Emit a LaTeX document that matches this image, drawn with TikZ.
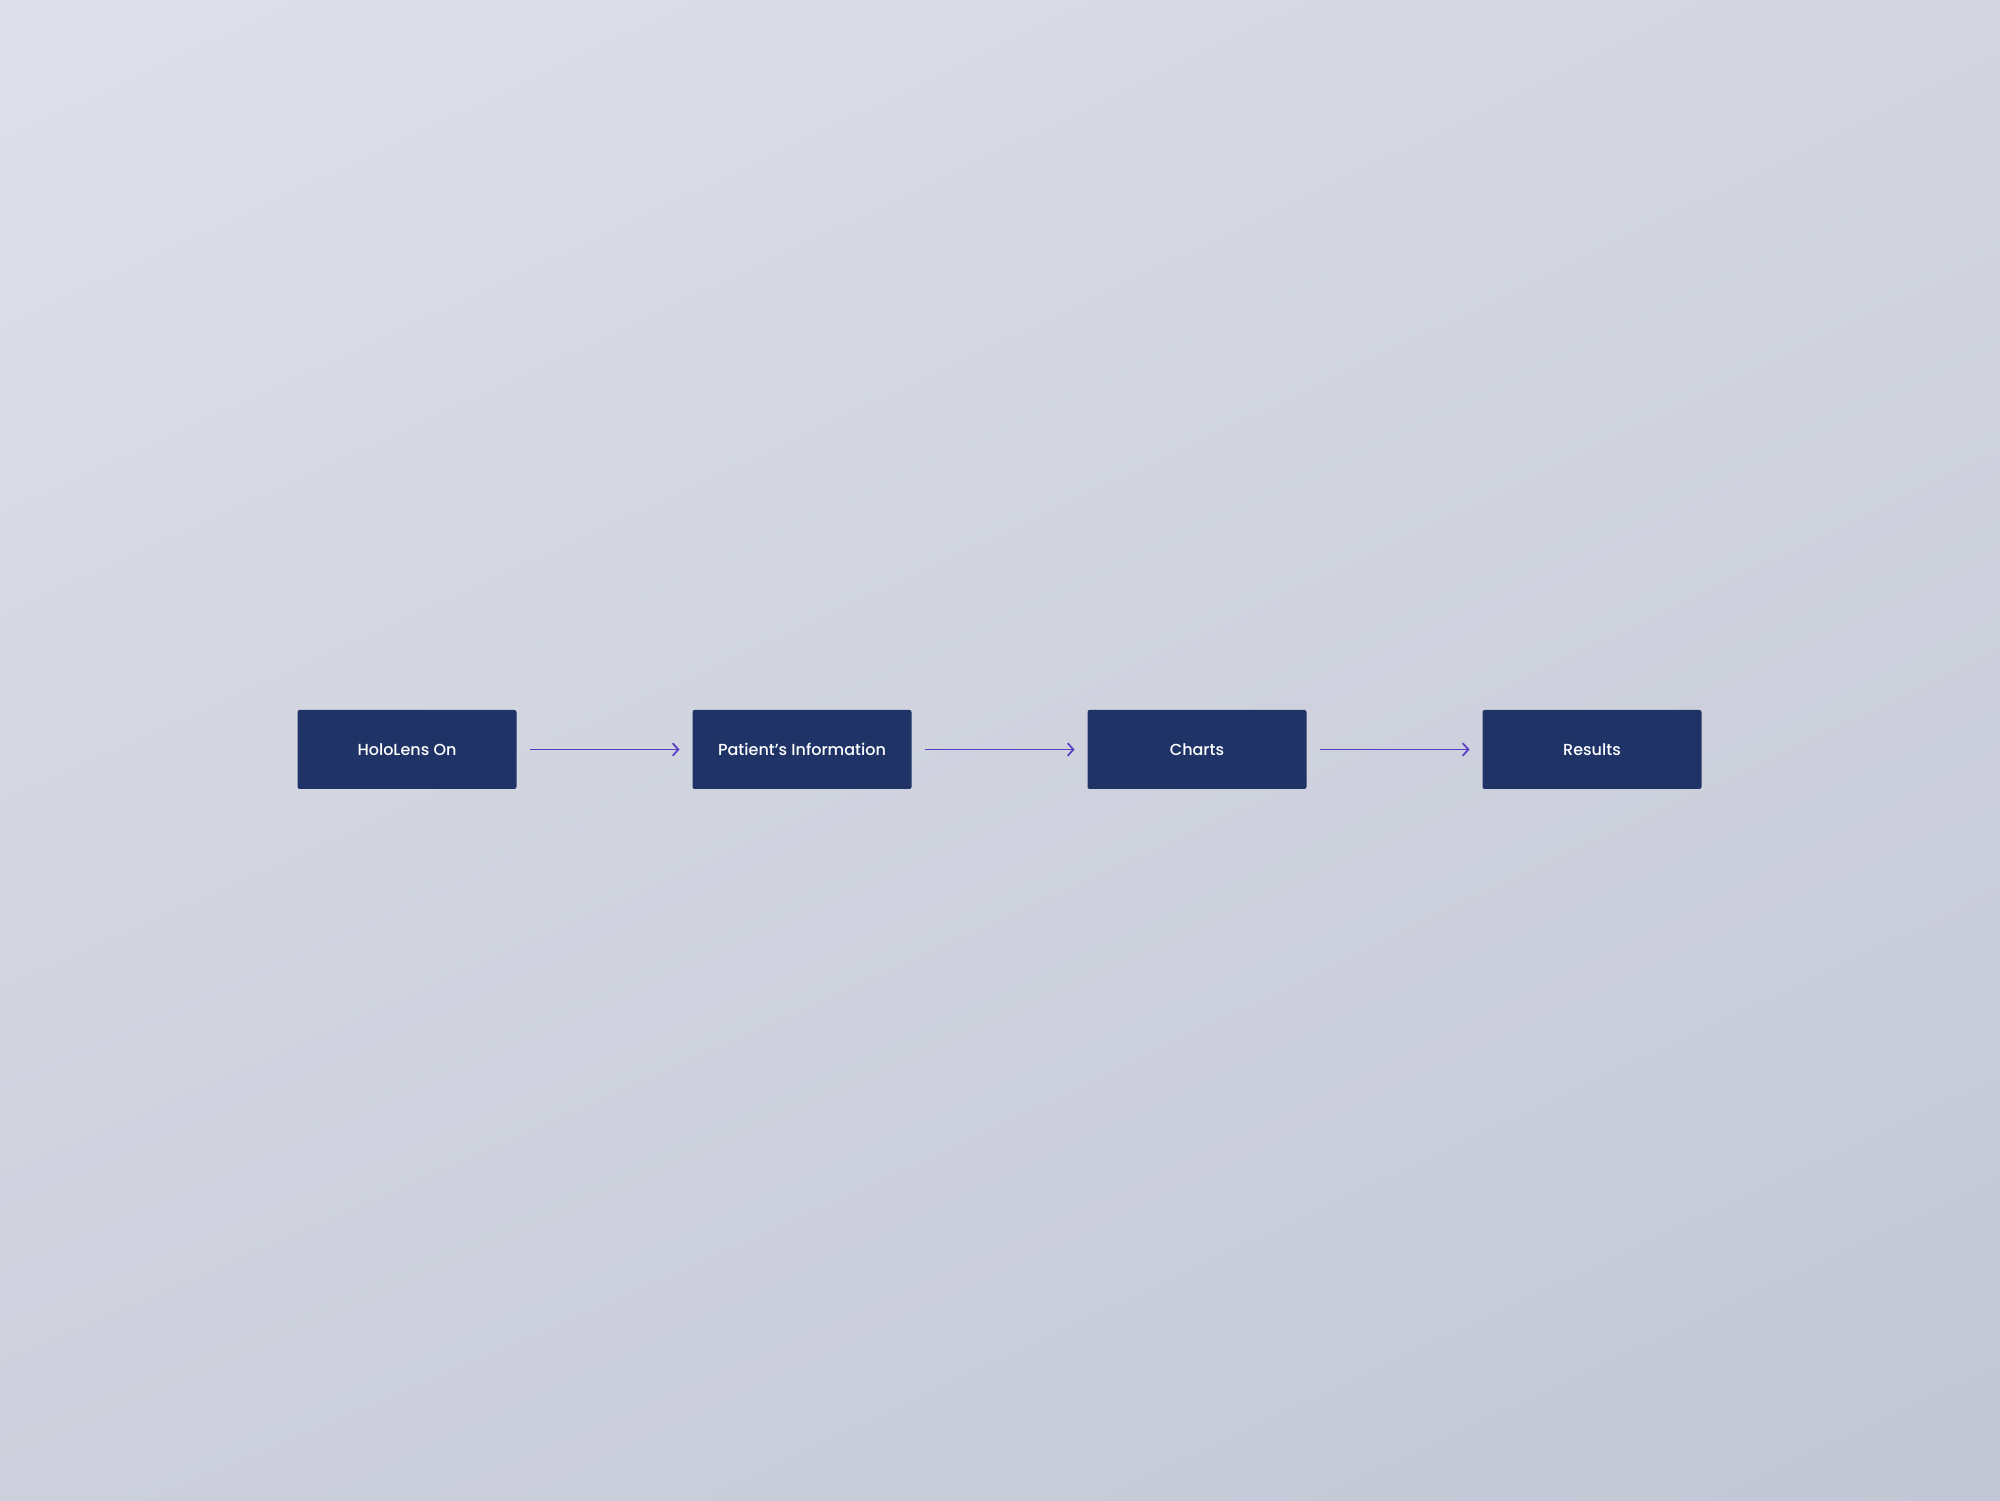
\documentclass[tikz,border=0pt]{standalone}
\usepackage{fontspec}
\setmainfont{Poppins Medium}
\usetikzlibrary{positioning, arrows.meta, shadings}
\definecolor{boxnavy}{HTML}{1F3367}
\definecolor{linkviolet}{HTML}{5A3EC2}
\definecolor{bgtl}{HTML}{DDE0E9}
\definecolor{bgtr}{HTML}{D3D6E0}
\definecolor{bgbl}{HTML}{CDD0DC}
\definecolor{bgbr}{HTML}{C3C7D5}

\begin{document}
\begin{tikzpicture}[
  stagebox/.style={fill=boxnavy, rounded corners=0.6pt, minimum width=2.19cm, minimum height=0.79cm, inner sep=0pt, outer sep=0pt, text=white, font=\fontsize{4.55}{6}\selectfont},
  link/.style={draw=linkviolet, line width=0.5pt, -{Straight Barb[length=1.6pt, width=3.6pt]}, shorten <=0.13cm, shorten >=0.13cm}]
\useasboundingbox (0,0) rectangle (20,15.01);
\shade[upper left=bgtl, upper right=bgtr, lower left=bgbl, lower right=bgbr] (0,0) rectangle (20,15.01);

\node[stagebox] (hololens) at (4.07,7.515) {HoloLens On};
\node[stagebox, right=1.76cm of hololens] (patient) {Patient’s Information};
\node[stagebox, right=1.76cm of patient] (charts) {Charts};
\node[stagebox, right=1.76cm of charts] (results) {Results};

\draw[link] (hololens) -- (patient);
\draw[link] (patient) -- (charts);
\draw[link] (charts) -- (results);
\end{tikzpicture}
\end{document}
